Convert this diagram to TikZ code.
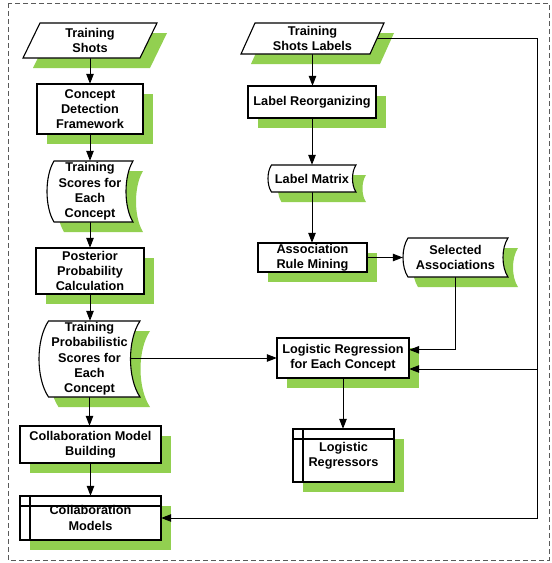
\documentclass[tikz,border=0pt]{standalone}
\usepackage{fontspec}
\setmainfont{Liberation Sans}
\usetikzlibrary{arrows.meta}
\pgfdeclarelayer{shadowlayer}
\pgfdeclarelayer{connlayer}
\pgfdeclarelayer{shapelayer}
\pgfsetlayers{shadowlayer,connlayer,shapelayer,main}
\definecolor{shdgreen}{RGB}{146,208,80}
\definecolor{framegray}{RGB}{90,90,90}
\tikzset{
  txt/.style={inner sep=0pt, align=center, font=\fontsize{12.7}{15.3}\selectfont\bfseries},
  outl/.style={draw=black, line width=1.1pt, fill=white},
  shd/.style={fill=shdgreen},
  arr/.style={line width=1pt, -{Triangle[length=10pt,width=7.5pt]}},
  conn/.style={line width=1pt},
}
% rectangle process box: name, x1, y1, x2, y2, text
\newcommand\rectnode[6]{%
  \node[txt, minimum width={#4-#2}, minimum height={#5-#3}] (#1) at ({(#2+#4)/2},{(#3+#5)/2}) {#6};
  \begin{pgfonlayer}{shapelayer}\draw[outl] (#2,#3) rectangle (#4,#5);\end{pgfonlayer}
  \begin{pgfonlayer}{shadowlayer}\fill[shd] (#2+10,#3+10) rectangle (#4+10,#5+10);\end{pgfonlayer}
}
% parallelogram path: options, x1, y1, x2, y2, slant
\newcommand\parapath[6]{%
  \path[#1] ({#2+#6},#3) -- (#4,#3) -- ({#4-#6},#5) -- (#2,#5) -- cycle;
}
\newcommand\paranode[7]{%
  \node[txt, minimum width={#4-#2}, minimum height={#5-#3}] (#1) at ({(#2+#4)/2},{(#3+#5)/2}) {#7};
  \begin{pgfonlayer}{shapelayer}\parapath{outl}{#2}{#3}{#4}{#5}{#6}\end{pgfonlayer}
  \begin{pgfonlayer}{shadowlayer}\parapath{shd,shift={(10,10)}}{#2}{#3}{#4}{#5}{#6}\end{pgfonlayer}
}
% stored data path: options, x1, y1, x2, y2, bulge
\newcommand\storepath[6]{%
  \path[#1] ({#2+#6},#3) -- (#4,#3)
    .. controls ({#4-4*#6/3},{#3+(#5-#3)/4}) and ({#4-4*#6/3},{#3+3*(#5-#3)/4}) .. (#4,#5)
    -- ({#2+#6},#5)
    .. controls ({#2-#6/3},{#3+3*(#5-#3)/4}) and ({#2-#6/3},{#3+(#5-#3)/4}) .. ({#2+#6},#3)
    -- cycle;
}
\newcommand\storenode[7]{%
  \node[txt, minimum width={#4-#2}, minimum height={#5-#3}] (#1) at ({(#2+#4)/2},{(#3+#5)/2}) {#7};
  \begin{pgfonlayer}{shapelayer}\storepath{outl}{#2}{#3}{#4}{#5}{#6}\end{pgfonlayer}
  \begin{pgfonlayer}{shadowlayer}\storepath{shd,shift={(10,10)}}{#2}{#3}{#4}{#5}{#6}\end{pgfonlayer}
}
% internal storage: name, x1, y1, x2, y2, text
\newcommand\storagenode[6]{%
  \node[txt, minimum width={#4-#2}, minimum height={#5-#3}] (#1) at ({(#2+#4)/2},{(#3+#5)/2}) {#6};
  \begin{pgfonlayer}{shapelayer}
    \draw[outl] (#2,#3) rectangle (#4,#5);
    \draw[line width=1.1pt] ({#2+10},#3) -- ({#2+10},#5) (#2,{#3+10}) -- (#4,{#3+10});
  \end{pgfonlayer}
  \begin{pgfonlayer}{shadowlayer}\fill[shd] (#2+10,#3+10) rectangle (#4+10,#5+10);\end{pgfonlayer}
}
\begin{document}
\begin{tikzpicture}[x=1pt,y=-1pt]
\useasboundingbox (0,0) rectangle (552,563);
\draw[framegray, line width=0.8pt, dash pattern=on 5pt off 3pt] (8,3) rectangle (549,560);

% left column
\paranode{ts}{23}{23}{157}{58}{17}{Training\\Shots}
\rectnode{cdf}{37}{84}{143}{134}{Concept\\Detection\\Framework}
\storenode{tsec}{47}{161}{133}{222}{7}{Training\\Scores for\\Each\\Concept}
\rectnode{ppc}{36}{248}{144}{294}{Posterior\\Probability\\Calculation}
\storenode{tps}{39}{321}{140}{397}{9.5}{Training\\Probabilistic\\Scores for\\Each\\Concept}
\rectnode{cmb}{20}{426}{161}{463}{Collaboration Model\\Building}
\storagenode{cm}{20}{496}{161}{540}{Collaboration\\Models}

% right column
\paranode{tsl}{241}{23}{384}{54}{14}{Training\\Shots Labels}
\rectnode{lr}{248}{86}{376}{118}{Label Reorganizing}
\storenode{lm}{268}{165}{356}{192}{3.5}{Label Matrix}
\rectnode{arm}{258}{243}{367}{272}{Association\\Rule Mining}
\storenode{sa}{403}{238}{508}{277}{5}{Selected\\Associations}
\rectnode{lrc}{277}{338}{409}{378}{Logistic Regression\\for Each Concept}
\storagenode{lreg}{293}{429}{394}{482}{Logistic\\Regressors}

\coordinate (rt) at (537,38.5);
\coordinate (rb) at (537,518);
\coordinate (rj) at (537,369);

\begin{pgfonlayer}{connlayer}
\draw[arr] (ts.south) -- (ts.south |- cdf.north);
\draw[arr] (cdf.south) -- (cdf.south |- tsec.north);
\draw[arr] (tsec.south) -- (tsec.south |- ppc.north);
\draw[arr] (ppc.south) -- (ppc.south |- tps.north);
\draw[arr] (tps.south) -- (tps.south |- cmb.north);
\draw[arr] (cmb.south) -- (cmb.south |- cm.north);
\draw[arr] (tsl.south) -- (tsl.south |- lr.north);
\draw[arr] (lr.south) -- (lr.south |- lm.north);
\draw[arr] (lm.south) -- (lm.south |- arm.north);
\draw[arr] (arm.east) -- (arm.east -| sa.west);
\draw[arr] (sa.south) |- ([yshift=-12pt]lrc.north east);
\draw[arr] (tps.center |- lrc.west) -- (lrc.west);
\draw[arr] (lrc.south) -- (lrc.south |- lreg.north);
\draw[arr] (tsl.center) -- (rt) -- (rb) -- (rb -| cm.east);
\draw[arr] (rj) -- (rj -| lrc.east);
\end{pgfonlayer}
\end{tikzpicture}
\end{document}
